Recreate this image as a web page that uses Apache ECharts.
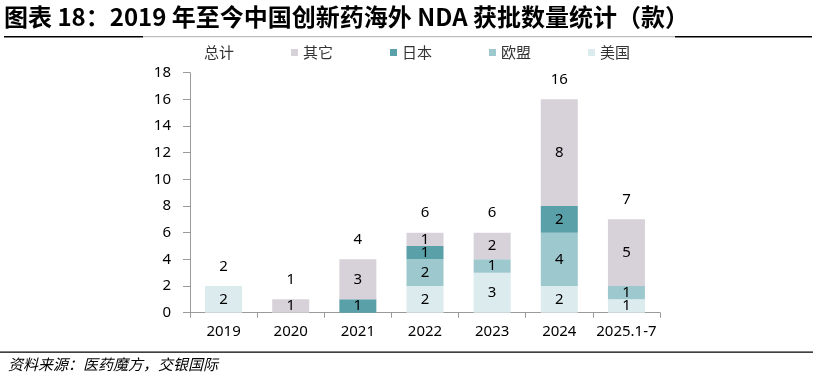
<!DOCTYPE html>
<html><head><meta charset="utf-8">
<script src="https://cdn.jsdelivr.net/npm/echarts@6/dist/echarts.min.js"></script>
<style>html,body{margin:0;padding:0;background:#fff}#c{width:813px;height:379px}</style>
</head><body><div id="c"></div>
<script>
const categories = ['2019','2020','2021','2022','2023','2024','2025.1-7'];
const usa   = [2, null, null, 2, 3, 2, 1];
const eu    = [null, null, null, 2, 1, 4, 1];
const japan = [null, null, 1, 1, null, 2, null];
const other = [null, 1, 3, 1, 2, 8, 5];
const total = [2, 1, 4, 6, 6, 16, 7];
const yTicks = {min: 0, max: 18, interval: 2};

const FONT = '"Noto Sans CJK SC", "Noto Sans", sans-serif';
const NUMFONT = '"Noto Sans", "Open Sans", sans-serif';
const chart = echarts.init(document.getElementById('c'));
const segLabel = {show: true, position: 'inside', color: '#000', fontSize: 15, fontFamily: NUMFONT};
function stackSeries(name, data, color) {
  return {name, type: 'bar', stack: 'a', data, barWidth: 37, itemStyle: {color},
    label: segLabel, silent: true, emphasis: {disabled: true}};
}
chart.setOption({
  animation: false,
  grid: {left: 190, right: 153, top: 72.7, bottom: 66.3},
  graphic: [
    {type: 'text', left: 4, top: 5, style: {text: '图表 18：2019 年至今中国创新药海外 NDA 获批数量统计（款）',
      font: 'bold 24px ' + FONT, fill: '#000'}},
    {type: 'rect', shape: {x: 4, y: 36, width: 139, height: 1.6}, style: {fill: '#000'}},
    {type: 'rect', shape: {x: 143, y: 36, width: 532, height: 1.3}, style: {fill: '#bdbdbd'}},
    {type: 'rect', shape: {x: 675, y: 36, width: 137, height: 1.6}, style: {fill: '#000'}},
    {type: 'rect', shape: {x: 0, y: 351.5, width: 813, height: 1.3}, style: {fill: '#000'}},
    {type: 'text', left: 8, top: 357, style: {text: '资料来源：医药魔方，交银国际',
      font: 'italic 15px ' + FONT, fill: '#000'}}
  ],
  legend: {
    left: 192, top: 45, itemGap: 57, itemWidth: 7, itemHeight: 7, padding: 0,
    textStyle: {fontSize: 15, color: '#333', fontFamily: FONT},
    data: [{name: '总计', icon: 'none'}, {name: '其它', icon: 'rect'}, {name: '日本', icon: 'rect'},
           {name: '欧盟', icon: 'rect'}, {name: '美国', icon: 'rect'}]
  },
  xAxis: {
    type: 'category', data: categories,
    axisLine: {lineStyle: {color: '#9a9a9a', width: 1}},
    axisTick: {show: true, length: 5, lineStyle: {color: '#9a9a9a'}},
    axisLabel: {color: '#000', fontSize: 15, margin: 12, fontFamily: NUMFONT, interval: 0}
  },
  yAxis: {
    type: 'value', min: yTicks.min, max: yTicks.max, interval: yTicks.interval,
    splitLine: {show: false},
    axisLine: {show: true, lineStyle: {color: '#9a9a9a', width: 1}},
    axisTick: {show: true, length: 7, lineStyle: {color: '#9a9a9a'}},
    axisLabel: {color: '#000', fontSize: 15, margin: 19, fontFamily: NUMFONT}
  },
  series: [
    stackSeries('美国', usa, '#dcebee'),
    stackSeries('欧盟', eu, '#9dc8ce'),
    stackSeries('日本', japan, '#5aa0a9'),
    stackSeries('其它', other, '#d7d2d9'),
    {name: '总计', type: 'bar', data: total, barWidth: 37, barGap: '-100%', silent: true,
      itemStyle: {color: 'rgba(0,0,0,0)'}, z: 1,
      label: {show: true, position: 'top', distance: 12, color: '#000', fontSize: 15, fontFamily: NUMFONT}}
  ]
});
</script></body></html>
